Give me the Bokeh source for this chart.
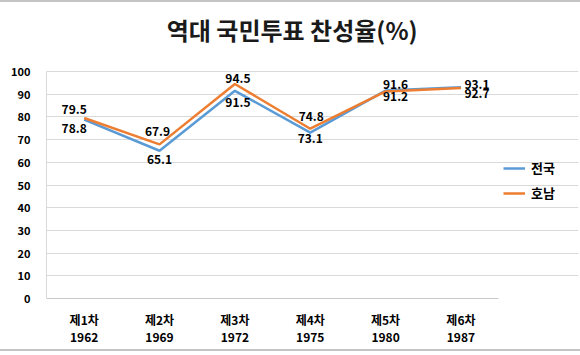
from bokeh.plotting import figure
from bokeh.models import (ColumnDataSource, Legend, LegendItem, LinearAxis,
                          Range1d, FixedTicker, Label)
from bokeh.embed import file_html
from bokeh.resources import INLINE
from bokeh.core.properties import value

# ---- data ----
title_text = "역대 국민투표 찬성율(%)"
rounds = ["제1차", "제2차", "제3차", "제4차", "제5차", "제6차"]
years = ["1962", "1969", "1972", "1975", "1980", "1987"]
national = [78.8, 65.1, 91.5, 73.1, 91.6, 93.1]   # 전국
honam = [79.5, 67.9, 94.5, 74.8, 91.2, 92.7]      # 호남
y_ticks = [0, 10, 20, 30, 40, 50, 60, 70, 80, 90, 100]

pos = list(range(1, len(rounds) + 1))   # category slots
n = len(rounds)

# ---- label placement (style only) ----
nat_dx = [-10, 0, 3, 0, 10, 16]
nat_dy = [9, 9, 12, 6, -6, -3]
ham_dx = [-10, -2, 3, 1, 10, 16]
ham_dy = [-9, -13, -5, -12, 5, 5]

FONT = "Noto Sans CJK KR"
BLUE = "#5b9bd5"
ORANGE = "#ed7d31"

# frame spans the plot area plus the legend zone on the right and title zone on top
p = figure(width=580, height=351, x_range=Range1d(0.5, n + 0.5 + 1.06), y_range=Range1d(0, 130.4),
           output_backend="svg", toolbar_location=None,
           min_border_left=46, min_border_right=2, min_border_top=0, min_border_bottom=55,
           x_axis_type=None)
p.styles = {"border-top": "2px solid #c4c4c4", "border-bottom": "2px solid #c4c4c4"}

p.outline_line_color = None
p.background_fill_color = "white"
p.border_fill_color = "white"

p.add_layout(Label(x=0.5 + (n + 1.06) / 2 - 0.27, y=118.5, text=title_text,
                   text_align="center", text_baseline="middle",
                   text_font=FONT, text_font_size="24px", text_font_style="bold",
                   text_color="#1a1a1a"))

src_n = ColumnDataSource(dict(x=pos, y=national, t=[f"{v:.1f}" for v in national], dx=nat_dx, dy=nat_dy))
src_h = ColumnDataSource(dict(x=pos, y=honam, t=[f"{v:.1f}" for v in honam], dx=ham_dx, dy=ham_dy))

r_n = p.line("x", "y", source=src_n, line_color=BLUE, line_width=2.5)
r_h = p.line("x", "y", source=src_h, line_color=ORANGE, line_width=2.5)

for src in (src_n, src_h):
    p.text("x", "y", text="t", source=src, x_offset="dx", y_offset="dy",
           text_align="center", text_baseline="middle",
           text_font=value(FONT), text_font_size="12px", text_font_style="bold",
           text_color="black")

# y axis
p.yaxis.ticker = FixedTicker(ticks=y_ticks)
p.yaxis.bounds = (0, 100)
p.yaxis.axis_line_color = "#d9d9d9"
p.yaxis.major_tick_line_color = None
p.yaxis.minor_tick_line_color = None
p.yaxis.major_label_standoff = 10
p.yaxis.major_label_text_font = FONT
p.yaxis.major_label_text_font_size = "11px"
p.yaxis.major_label_text_font_style = "bold"
p.yaxis.major_label_text_color = "black"

# x axes: rounds, then years
ax1 = LinearAxis(ticker=FixedTicker(ticks=pos), bounds=(0.5, n + 0.5),
                 major_label_overrides={i: r for i, r in zip(pos, rounds)},
                 axis_line_color="#c8c8c8", major_tick_line_color=None, minor_tick_line_color=None,
                 major_label_standoff=6, major_label_text_font=FONT,
                 major_label_text_font_size="12px", major_label_text_font_style="bold",
                 major_label_text_color="black", major_label_text_line_height=1.0)
ax2 = LinearAxis(ticker=FixedTicker(ticks=pos),
                 major_label_overrides={i: y for i, y in zip(pos, years)},
                 axis_line_color=None, major_tick_line_color=None, minor_tick_line_color=None,
                 major_label_standoff=-4, major_label_text_font=FONT,
                 major_label_text_font_size="12px", major_label_text_font_style="bold",
                 major_label_text_color="black")
p.add_layout(ax1, "below")
p.add_layout(ax2, "below")

p.xgrid.grid_line_color = None
p.ygrid.grid_line_color = "#d9d9d9"
p.ygrid.grid_line_width = 1
p.ygrid.bounds = (0.5, n + 0.5)

legend = Legend(items=[LegendItem(label="전국", renderers=[r_n]),
                       LegendItem(label="호남", renderers=[r_h])],
                location=(457, 96), orientation="vertical",
                label_text_font=FONT, label_text_font_size="13px",
                label_text_font_style="bold", label_text_color="black",
                glyph_width=22, glyph_height=18, label_height=18, label_standoff=6,
                spacing=6, padding=0, margin=0,
                border_line_color=None, background_fill_alpha=0)
p.add_layout(legend, "center")

open("out.html", "w").write(file_html(p, INLINE))
